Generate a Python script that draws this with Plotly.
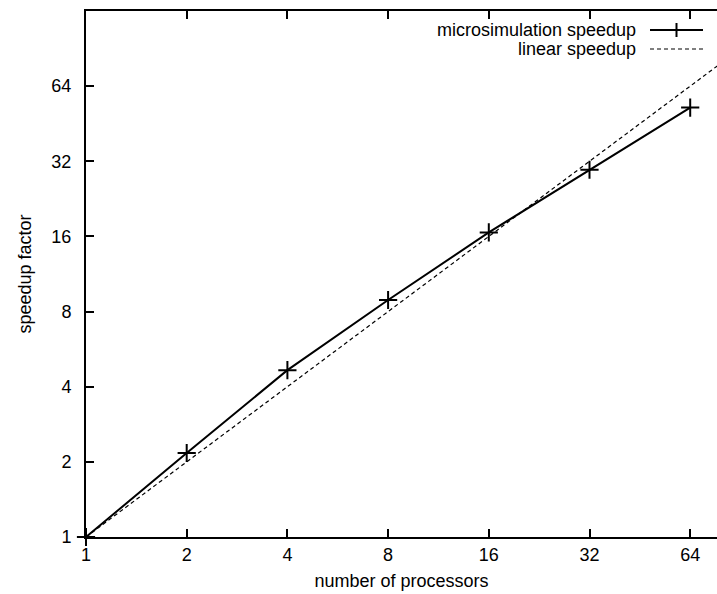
import math
import plotly.graph_objects as go

processors = [1, 2, 4, 8, 16, 32, 64]
micro_speedup = [1.0, 2.17, 4.66, 8.9, 16.6, 29.6, 52.5]
linear_x = [1, 2, 4, 8, 16, 32, 64, 128]
linear_y = [1, 2, 4, 8, 16, 32, 64, 128]
tick_vals = [1, 2, 4, 8, 16, 32, 64]
tick_text = ["1", "2", "4", "8", "16", "32", "64"]
series_names = ["microsimulation speedup", "linear speedup"]

FONT = "Liberation Sans, Arial, Helvetica, sans-serif"
W, H = 717, 594
L, R, T, B = 86, 0, 11, 57
pw, ph = W - L - R, H - T - B

fig = go.Figure()
fig.add_trace(go.Scatter(
    x=linear_x, y=linear_y, mode="lines", name=series_names[1],
    line=dict(color="black", width=1.2, dash="4px,3px"), showlegend=False))
fig.add_trace(go.Scatter(
    x=processors, y=micro_speedup, mode="lines+markers", name=series_names[0],
    line=dict(color="black", width=2),
    marker=dict(symbol="cross-thin", size=13, line=dict(color="black", width=2)),
    cliponaxis=False, showlegend=False))

fig.update_xaxes(type="log", range=[0, math.log10(2) * pw / 100.7],
                 tickvals=tick_vals, ticktext=tick_text,
                 ticks="inside", ticklen=8, tickwidth=1.5, tickcolor="black",
                 showline=True, linecolor="black", linewidth=2, mirror="ticks",
                 showgrid=False, zeroline=False,
                 tickfont=dict(family=FONT, size=18, color="black"),
                 title=dict(text="number of processors", standoff=11,
                            font=dict(family=FONT, size=18, color="black")))
fig.update_yaxes(type="log", range=[0, math.log10(128)],
                 tickvals=tick_vals, ticktext=tick_text,
                 ticks="inside", ticklen=8, tickwidth=1.5, tickcolor="black",
                 showline=True, linecolor="black", linewidth=2, mirror=False,
                 showgrid=False, zeroline=False, ticklabelstandoff=9,
                 tickfont=dict(family=FONT, size=18, color="black"),
                 title=dict(text="speedup factor", standoff=15,
                            font=dict(family=FONT, size=18, color="black")))

# gnuplot-style key: right-aligned text with sample to the right
def px_x(p):
    return (p - L) / pw

def px_y(p):
    return (H - B - p) / ph

rows = [30, 49]
for name, ry in zip(series_names, rows):
    fig.add_annotation(xref="paper", yref="paper", x=px_x(638), y=px_y(ry),
                       text=name, showarrow=False, xanchor="right", yanchor="middle",
                       font=dict(family=FONT, size=18, color="black"))
fig.add_shape(type="line", xref="paper", yref="paper",
              x0=px_x(650), x1=px_x(703), y0=px_y(rows[0]), y1=px_y(rows[0]),
              line=dict(color="black", width=2))
fig.add_shape(type="line", xref="paper", yref="paper",
              x0=px_x(676.5), x1=px_x(676.5), y0=px_y(rows[0] - 7), y1=px_y(rows[0] + 7),
              line=dict(color="black", width=2))
fig.add_shape(type="line", xref="paper", yref="paper",
              x0=px_x(650), x1=px_x(703), y0=px_y(rows[1]), y1=px_y(rows[1]),
              line=dict(color="black", width=1.2, dash="4px,3px"))

fig.update_layout(width=W, height=H, margin=dict(l=L, r=R, t=T, b=B),
                  paper_bgcolor="white", plot_bgcolor="white", showlegend=False)
fig.write_html("out.html")
